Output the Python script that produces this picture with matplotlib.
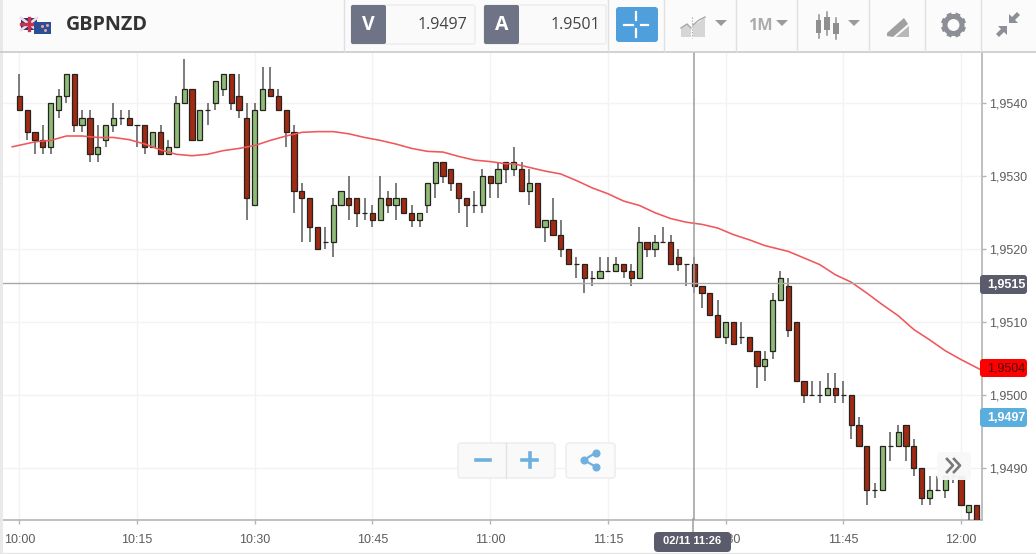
import matplotlib
matplotlib.use('Agg')
import matplotlib.pyplot as plt
from matplotlib.patches import FancyBboxPatch, Rectangle, Polygon, Circle
import numpy as np

# prices in 1/10000, one entry per minute from 10:00
opens = [19541, 19539, 19536, 19535, 19534, 19539, 19541, 19544, 19537, 19538, 19533, 19535, 19537, 19538, 19538,
         19537, 19537, 19534, 19536, 19533, 19534, 19540, 19542, 19535, 19539, 19540, 19542, 19544, 19541, 19538,
         19526, 19539, 19542, 19541, 19539, 19536, 19528, 19527, 19523, 19521, 19521, 19526, 19527, 19527, 19525,
         19525, 19524, 19527, 19526, 19527, 19525, 19524, 19526, 19529, 19532, 19531, 19529, 19527, 19526, 19526,
         19530, 19529, 19532, 19531, 19531, 19528, 19529, 19523, 19524, 19522, 19520, 19518, 19518, 19516, 19516,
         19517, 19517, 19518, 19517, 19516, 19521, 19520, 19521, 19521, 19519, 19518, 19518, 19515, 19514, 19511,
         19508, 19510, 19508, 19508, 19506, 19504, 19506, 19513, 19515, 19510, 19502, 19500, 19500, 19500, 19501,
         19500, 19500, 19496, 19493, 19487, 19487, 19493, 19493, 19496, 19493, 19490, 19486, 19487, 19487, 19489,
         19489, 19484, 19485]
closes = [19539, 19536, 19535, 19534, 19540, 19541, 19544, 19537, 19538, 19533, 19534, 19537, 19538, 19538, 19537,
          19537, 19534, 19536, 19533, 19534, 19540, 19542, 19535, 19539, 19539, 19543, 19544, 19540, 19539, 19527,
          19539, 19542, 19541, 19539, 19536, 19528, 19527, 19523, 19520, 19521, 19526, 19528, 19526, 19525, 19525,
          19524, 19527, 19526, 19527, 19525, 19524, 19525, 19529, 19532, 19530, 19529, 19527, 19526, 19526, 19530,
          19529, 19531, 19531, 19532, 19528, 19529, 19523, 19524, 19522, 19520, 19518, 19518, 19516, 19516, 19517,
          19517, 19518, 19517, 19516, 19521, 19520, 19521, 19521, 19518, 19518, 19518, 19515, 19514, 19511, 19508,
          19510, 19507, 19508, 19506, 19504, 19505, 19513, 19516, 19509, 19502, 19500, 19500, 19500, 19501, 19500,
          19500, 19496, 19493, 19487, 19487, 19493, 19493, 19495, 19493, 19490, 19486, 19487, 19487, 19489, 19489,
          19485, 19485, 19483]
highs = [19544, 19539, 19536, 19537, 19540, 19542, 19544, 19544, 19539, 19539, 19537, 19537, 19540, 19539, 19539,
         19537, 19537, 19536, 19537, 19535, 19541, 19546, 19542, 19539, 19540, 19543, 19544, 19544, 19544, 19540,
         19540, 19545, 19545, 19542, 19539, 19537, 19529, 19527, 19523, 19523, 19527, 19528, 19530, 19527, 19527,
         19526, 19530, 19528, 19529, 19527, 19526, 19525, 19529, 19532, 19532, 19531, 19529, 19527, 19528, 19531,
         19530, 19532, 19532, 19534, 19532, 19531, 19529, 19524, 19527, 19524, 19520, 19519, 19518, 19517, 19519,
         19519, 19519, 19518, 19518, 19523, 19521, 19522, 19523, 19522, 19520, 19518, 19519, 19515, 19514, 19513,
         19510, 19510, 19510, 19508, 19506, 19506, 19514, 19517, 19516, 19510, 19502, 19502, 19502, 19503, 19503,
         19502, 19500, 19497, 19493, 19488, 19493, 19495, 19496, 19496, 19494, 19490, 19489, 19489, 19489, 19490,
         19489, 19485, 19485]
lows = [19539, 19535, 19533, 19533, 19533, 19538, 19540, 19536, 19536, 19532, 19532, 19534, 19536, 19537, 19537,
        19534, 19533, 19534, 19533, 19533, 19534, 19540, 19535, 19535, 19537, 19539, 19541, 19539, 19538, 19524,
        19526, 19539, 19541, 19539, 19534, 19525, 19521, 19521, 19520, 19520, 19519, 19526, 19524, 19523, 19524,
        19523, 19524, 19525, 19524, 19525, 19523, 19523, 19525, 19527, 19529, 19528, 19525, 19523, 19525, 19525,
        19527, 19527, 19529, 19530, 19528, 19526, 19523, 19521, 19522, 19519, 19518, 19516, 19514, 19515, 19516,
        19517, 19517, 19516, 19515, 19516, 19519, 19519, 19521, 19518, 19517, 19515, 19514, 19512, 19511, 19508,
        19507, 19507, 19507, 19506, 19501, 19502, 19505, 19513, 19508, 19502, 19499, 19500, 19499, 19500, 19499,
        19499, 19494, 19493, 19485, 19486, 19487, 19491, 19493, 19491, 19489, 19485, 19485, 19487, 19486, 19488,
        19485, 19483, 19483]

ma_minutes = [-1, 2, 4, 6, 8, 10, 12, 14, 16, 18, 20, 22, 24, 26, 28, 30, 32, 34, 36, 38, 40, 42, 44, 46, 48, 50,
              52, 54, 56, 58, 60, 62, 63, 65, 67, 69, 71, 73, 75, 77, 79, 81, 83, 85, 87, 89, 91, 93, 95, 98, 102,
              104, 106, 108, 110, 112, 114, 116, 118, 120, 122.7]
ma_values = [1.95340, 1.95347, 1.95349, 1.95355, 1.95355, 1.95353, 1.95353, 1.95350, 1.95344, 1.95336, 1.95330,
             1.95328, 1.95330, 1.95335, 1.95338, 1.95342, 1.95349, 1.95355, 1.95360, 1.95361, 1.95361, 1.95358,
             1.95353, 1.95349, 1.95344, 1.95338, 1.95334, 1.95333, 1.95327, 1.95322, 1.95320, 1.95317, 1.95317,
             1.95312, 1.95307, 1.95303, 1.95294, 1.95284, 1.95276, 1.95266, 1.95260, 1.95250, 1.95242, 1.95237,
             1.95234, 1.95229, 1.95220, 1.95213, 1.95205, 1.95197, 1.95179, 1.95165, 1.95155, 1.95140, 1.95124,
             1.95109, 1.95090, 1.95076, 1.95061, 1.95049, 1.95034]

x_ticks = [0, 15, 30, 45, 60, 75, 90, 105, 120]
x_labels = ['10:00', '10:15', '10:30', '10:45', '11:00', '11:15', '11:30', '11:45', '12:00']
y_ticks = [1.9490, 1.9500, 1.9510, 1.9520, 1.9530, 1.9540]
y_labels = ['1,9490', '1,9500', '1,9510', '1,9520', '1,9530', '1,9540']
cursor_minute = 86
cursor_price = 1.95154

RED = '#a02a12'
GREEN = '#8ebb78'
DARK = '#5a5c6c'
BLUE = '#4f9fdc'
SOFT_BLUE = '#6fb0de'
GREY = '#9a9ca0'

plt.rcParams['font.family'] = ['Liberation Sans', 'DejaVu Sans']

W, H = 1036, 554
fig = plt.figure(figsize=(W / 100, H / 100), dpi=100, facecolor='white')

# price chart, axes box in pixels: x 0-982, y 52-519.5
ax = fig.add_axes([0, (H - 519.5) / H, 982 / W, (519.5 - 52) / H])
ax.set_xlim(-2.46, 122.68)
ax.set_ylim(1.94830, 1.95470)

minutes = np.arange(len(opens))
o = np.array(opens) / 10000
c = np.array(closes) / 10000
hi = np.array(highs) / 10000
lo = np.array(lows) / 10000

ax.vlines(minutes, lo, hi, color='#666666', lw=1.2, zorder=3)
colors = [GREEN if c[i] > o[i] else RED for i in minutes]
ax.bar(minutes, np.abs(c - o), bottom=np.minimum(o, c), width=0.66, color=colors,
       edgecolor='#26221f', linewidth=0.9, zorder=4)
ax.plot(ma_minutes, ma_values, color='#f0565a', lw=1.15, zorder=5, solid_capstyle='butt')

ax.axhline(cursor_price, color='#a8a8a8', lw=1, zorder=6)
ax.axvline(cursor_minute, color='#9c9c9c', lw=1.1, zorder=6)

ax.set_xticks(x_ticks)
ax.set_xticklabels(x_labels)
ax.set_yticks(y_ticks)
ax.set_yticklabels(y_labels)
ax.yaxis.tick_right()
ax.grid(True, color='#f3f3f3', lw=1)
ax.set_axisbelow(True)
ax.tick_params(axis='both', length=3, width=1, color='#b4b4b4', labelcolor='#5c5c5c', labelsize=9)
ax.tick_params(axis='x', pad=7.5)
ax.tick_params(axis='y', pad=2)
for side in ['top', 'left']:
    ax.spines[side].set_visible(False)
for side in ['right', 'bottom']:
    ax.spines[side].set_color('#b4b4b4')
    ax.spines[side].set_linewidth(1.2)

# everything else is page furniture, drawn in pixel coordinates
ui = fig.add_axes([0, 0, 1, 1], facecolor='none')
ui.set_xlim(0, W)
ui.set_ylim(H, 0)
ui.axis('off')


def box(x0, y0, x1, y1, fc, ec='none', r=2, lw=1, z=2, alpha=None):
    p = FancyBboxPatch((x0 + r, y0 + r), x1 - x0 - 2 * r, y1 - y0 - 2 * r, boxstyle='round,pad=%f' % r,
                       fc=fc, ec=ec, lw=lw, zorder=z, alpha=alpha)
    ui.add_patch(p)


def tri(x, y, w=12, h=6, col='#9a9a9a'):
    ui.add_patch(Polygon([[x, y], [x + w, y], [x + w / 2, y + h]], fc=col, ec='none', zorder=3))


def tag(y0, y1, label, fc, tc, weight='bold'):
    box(980, y0, 1027, y1, fc, r=3, z=4)
    ui.text(1006, (y0 + y1) / 2 + 0.5, label, color=tc, fontsize=9, fontweight=weight, ha='center', va='center', zorder=5)


# toolbar
ui.add_patch(Rectangle((0, 0), W, 51, fc='#fbfbfb', ec='none', zorder=1))
ui.plot([0, W], [51.5, 51.5], color='#c9c9c9', lw=1.2, zorder=2)
ui.add_patch(Rectangle((0, 0), 3, H, fc='#e9e9e9', ec='none', zorder=1))
ui.plot([0, W], [552.5, 552.5], color='#e6e6e6', lw=1, zorder=2)
for sx in [344, 608, 664, 736, 797, 869, 925, 981]:
    ui.plot([sx, sx], [0, 51], color='#e0e0e0', lw=1, zorder=2)

# flags
ui.add_patch(Rectangle((21, 18), 16, 12, fc='#33306e', ec='none', zorder=3))
ui.plot([21, 37], [18, 30], color='#e8dfe6', lw=2, zorder=4)
ui.plot([21, 37], [30, 18], color='#e8dfe6', lw=2, zorder=4)
ui.plot([29, 29], [18, 30], color='#c9324a', lw=2.4, zorder=4)
ui.plot([21, 37], [24, 24], color='#c9324a', lw=2.4, zorder=4)
ui.add_patch(Rectangle((34, 21.5), 17, 12, fc='#2a4f94', ec='none', zorder=5))
ui.plot([42, 47, 45], [26, 25, 30], ls='none', marker='o', ms=1.2, color='#e8a0a0', zorder=6)

ui.text(66, 25.5, 'GBPNZD', family='Open Sans', fontweight='bold', fontsize=14.2, color='#333333', va='center', zorder=3)

box(351, 5, 475, 44, '#fafafa', ec='#ececec')
box(351, 5, 386, 44, '#6f7386')
ui.text(368.5, 25, 'V', family='Open Sans', fontweight='bold', fontsize=14, color='white', ha='center', va='center', zorder=3)
ui.text(467, 25, '1.9497', family='Open Sans', fontsize=11.5, color='#444444', ha='right', va='center', zorder=3)
box(484, 5, 606, 44, '#fafafa', ec='#ececec')
box(484, 5, 519, 44, '#6f7386')
ui.text(501.5, 25, 'A', family='Open Sans', fontweight='bold', fontsize=14, color='white', ha='center', va='center', zorder=3)
ui.text(600, 25, '1.9501', family='Open Sans', fontsize=11.5, color='#444444', ha='right', va='center', zorder=3)

# crosshair button
box(616, 7, 658, 42, BLUE, r=3)
for seg in [([624, 633], [24.5, 24.5]), ([641, 648], [24.5, 24.5]), ([636, 636], [12, 20]), ([636, 636], [29, 37])]:
    ui.plot(seg[0], seg[1], color='white', lw=1.6, zorder=3)

# chart type icon
ui.add_patch(Polygon([[681, 37], [681, 28], [687, 24], [691, 28], [691, 37]], fc='#d6d6d6', ec='none', zorder=3))
ui.add_patch(Polygon([[693, 37], [693, 25], [699, 22], [705, 17], [705, 37]], fc='#d6d6d6', ec='none', zorder=3))
ui.plot([681, 687, 691], [28, 24, 28], color='#a8a8a8', lw=1, zorder=4)
ui.plot([693, 699, 705], [25, 20, 17], color='#a8a8a8', lw=1, zorder=4)
ui.plot([692, 692], [17, 38], color='#999999', lw=0.8, ls=':', zorder=4)
tri(715, 20)

ui.text(748, 25.5, '1M', family='Open Sans', fontweight='bold', fontsize=11.6, color='#ababab', va='center', zorder=3)
tri(776, 20)

# candle icon
for cx, y0, y1, w0, w1 in [(818.5, 20, 33, 15, 38), (827, 17, 30, 12, 35), (836, 23, 34, 18, 39)]:
    ui.plot([cx, cx], [w0, w1], color='#8f8f8f', lw=1.1, zorder=3)
    ui.add_patch(Rectangle((cx - 2.8, y0), 5.6, y1 - y0, fc='#8f8f8f', ec='none', zorder=4))
tri(848, 20)

# pencil icon
ui.add_patch(Polygon([[887, 33], [904, 18], [908, 24], [893, 37], [887, 36]], fc='#a0a0a0', ec='none', zorder=3))
ui.add_patch(Polygon([[896, 37], [909, 26], [909, 37]], fc='#b8b8b8', ec='none', zorder=3))

# gear
ui.add_patch(Circle((953.5, 25), 8.5, fc='none', ec='#8c8f96', lw=3.6, zorder=3))
for a in np.arange(0, 360, 45):
    r = np.radians(a + 22.5)
    ui.plot([953.5 + 9 * np.cos(r), 953.5 + 12.5 * np.cos(r)], [25 + 9 * np.sin(r), 25 + 12.5 * np.sin(r)],
            color='#8c8f96', lw=3.6, solid_capstyle='butt', zorder=3)

# compress arrows
ui.add_patch(Polygon([[1009, 14], [1009, 23], [1018, 23], [1015, 20], [1020, 15], [1017, 12], [1012, 17]], fc='#8c8f96', ec='none', zorder=3))
ui.add_patch(Polygon([[1007, 35], [1007, 26], [998, 26], [1001, 29], [996, 34], [999, 37], [1004, 32]], fc='#8c8f96', ec='none', zorder=3))

# price tags and date tag
tag(275, 294, '1,9515', DARK, 'white')
tag(359, 377, '1,9504', '#ff0000', '#4a1010', weight='normal')
tag(408, 427, '1,9497', '#5aaede', 'white')
box(654, 532, 731, 552, DARK, r=4, z=4)
ui.text(692.5, 541.5, '02/11 11:26', color='white', fontsize=8, fontweight='bold', ha='center', va='center', zorder=5)
ui.plot([692.5, 692.5], [519, 532], color='#9c9c9c', lw=1.1, zorder=3)

# zoom and share buttons
box(458, 443, 555, 478, '#f9f9f9', ec='#ececec', r=3, z=3)
ui.plot([505.5, 505.5], [443, 478], color='#e2e2e2', lw=1, zorder=4)
ui.plot([476, 490], [460, 460], color=SOFT_BLUE, lw=2.6, zorder=4)
ui.plot([522, 537], [460, 460], color=SOFT_BLUE, lw=2.6, zorder=4)
ui.plot([529.5, 529.5], [453, 467], color=SOFT_BLUE, lw=2.6, zorder=4)
box(566, 443, 615, 478, '#fbfbfb', ec='#ececec', r=3, z=3)
ui.plot([596, 584, 596], [452.5, 460, 467], color=SOFT_BLUE, lw=1.6, zorder=4)
ui.plot([596, 584, 596], [452.5, 460, 467], ls='none', marker='o', ms=4.8, color=SOFT_BLUE, zorder=4)

# scroll button, sits over the last candles
box(937, 452, 971, 480, '#f8f8f8', r=4, z=3, alpha=0.96)
ui.plot([947, 953, 947], [459, 465.5, 472], color='#77787c', lw=1.9, zorder=4)
ui.plot([954, 960, 954], [459, 465.5, 472], color='#77787c', lw=1.9, zorder=4)

fig.savefig('out.png', dpi=100)
